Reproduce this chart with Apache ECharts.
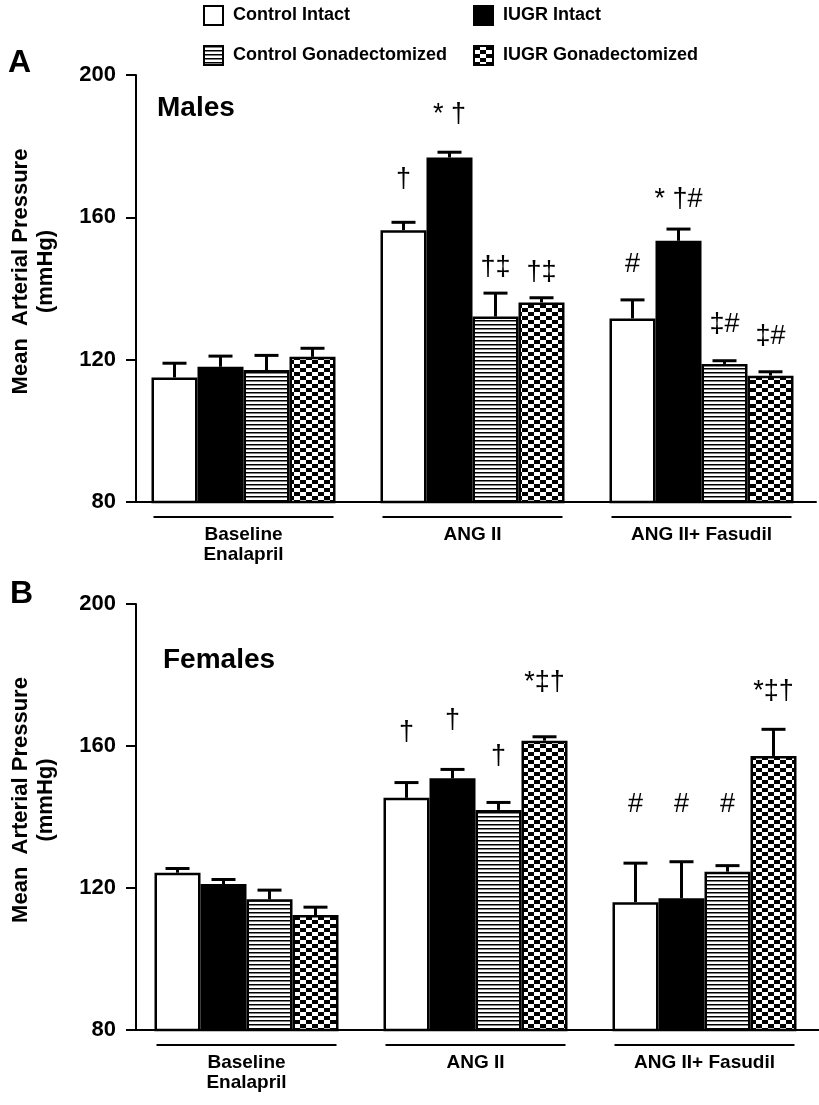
<!DOCTYPE html>
<html><head><meta charset="utf-8">
<script src="https://cdn.jsdelivr.net/npm/echarts@6/dist/echarts.min.js"></script>
<style>html,body{margin:0;padding:0;background:#fff}#c{width:819px;height:1105px}</style>
</head><body><div id="c"></div>
<script>
// ---------- DATA ----------
const categories = ['Baseline\nEnalapril', 'ANG II', 'ANG II+ Fasudil'];
const groupNames = ['Control Intact', 'IUGR Intact', 'Control Gonadectomized', 'IUGR Gonadectomized'];
const yTickMin = 80, yTickMax = 200, yTickStep = 40;

// Males (panel A): means and SEM
const malesControlIntact = [115.0, 156.4, 131.6];
const malesIUGRIntact    = [118.0, 176.8, 153.4];
const malesControlGonad  = [117.1, 132.1, 118.8];
const malesIUGRGonad     = [120.8, 136.1, 115.5];
const malesControlIntactErr = [4.0, 2.2, 5.2];
const malesIUGRIntactErr    = [3.0, 1.5, 3.3];
const malesControlGonadErr  = [4.1, 6.6, 0.9];
const malesIUGRGonadErr     = [2.4, 1.3, 1.1];

// Females (panel B): means and SEM
const femalesControlIntact = [124.3, 145.4, 116.0];
const femalesIUGRIntact    = [121.1, 150.9, 117.1];
const femalesControlGonad  = [116.8, 142.0, 124.6];
const femalesIUGRGonad     = [112.4, 161.5, 157.2];
const femalesControlIntactErr = [1.2, 4.3, 11.0];
const femalesIUGRIntactErr    = [1.3, 2.5, 10.3];
const femalesControlGonadErr  = [2.6, 2.1, 1.7];
const femalesIUGRGonadErr     = [2.2, 1.1, 7.5];

// Significance marks: [category, group, level (mmHg), text]
const malesMarks = [
  [1, 0, 170.5, '†'], [1, 1, 188.8, '* †'], [1, 2, 146.0, '†‡'], [1, 3, 144.6, '†‡'],
  [2, 0, 146.6, '#'], [2, 1, 164.9, '* †#'], [2, 2, 130.0, '‡#'], [2, 3, 126.5, '‡#']
];
const femalesMarks = [
  [1, 0, 163.7, '†'], [1, 1, 167.3, '†'], [1, 2, 156.9, '†'], [1, 3, 178.0, '*‡†'],
  [2, 0, 143.4, '#'], [2, 1, 143.4, '#'], [2, 2, 143.4, '#'], [2, 3, 175.2, '*‡†']
];

// ---------- STYLE ----------
const FONT = '"Liberation Sans", Arial, sans-serif';
const BAR_W = 46;

function stripePattern() {
  const c = document.createElement('canvas'); c.width = 8; c.height = 4;
  const g = c.getContext('2d');
  g.fillStyle = '#fff'; g.fillRect(0, 0, 8, 4);
  g.fillStyle = '#000'; g.fillRect(0, 0, 8, 1.5);
  return { image: c, repeat: 'repeat' };
}
function checkerPattern() {
  const c = document.createElement('canvas'); c.width = 12; c.height = 8;
  const g = c.getContext('2d');
  g.fillStyle = '#fff'; g.fillRect(0, 0, 12, 8);
  g.fillStyle = '#000'; g.fillRect(0, 0, 6, 4); g.fillRect(6, 4, 6, 4);
  return { image: c, repeat: 'repeat' };
}
const fills = ['#ffffff', '#000000', stripePattern(), checkerPattern()];

const malesMeans = [malesControlIntact, malesIUGRIntact, malesControlGonad, malesIUGRGonad];
const malesErrs = [malesControlIntactErr, malesIUGRIntactErr, malesControlGonadErr, malesIUGRGonadErr];
const femalesMeans = [femalesControlIntact, femalesIUGRIntact, femalesControlGonad, femalesIUGRGonad];
const femalesErrs = [femalesControlIntactErr, femalesIUGRIntactErr, femalesControlGonadErr, femalesIUGRGonadErr];

function barSeries(means, idx) {
  return means.map((vals, s) => ({
    type: 'bar', name: groupNames[s], xAxisIndex: idx, yAxisIndex: idx,
    data: vals, barWidth: BAR_W, barGap: '0%',
    itemStyle: { color: fills[s], borderColor: '#000', borderWidth: 2.5 },
    emphasis: { disabled: true }, z: 2
  }));
}
function errorSeries(means, errs, idx) {
  const data = [];
  means.forEach((vals, s) => vals.forEach((v, c) => data.push([c, v, v + errs[s][c], s])));
  return {
    type: 'custom', xAxisIndex: idx, yAxisIndex: idx, z: 3, silent: true,
    encode: { x: 0, y: [1, 2] }, data,
    renderItem(params, api) {
      const c = api.value(0), s = api.value(3);
      const base = api.coord([c, api.value(1)]);
      const top = api.coord([c, api.value(2)]);
      const x = base[0] + (s - 1.5) * BAR_W;
      const st = { stroke: '#000', lineWidth: 3 };
      return { type: 'group', children: [
        { type: 'line', shape: { x1: x, y1: base[1], x2: x, y2: top[1] }, style: st },
        { type: 'line', shape: { x1: x - 12, y1: top[1], x2: x + 12, y2: top[1] }, style: st }
      ]};
    }
  };
}
function markSeries(marks, idx) {
  return {
    type: 'custom', xAxisIndex: idx, yAxisIndex: idx, z: 4, silent: true,
    encode: { x: 0, y: 1 }, data: marks.map(m => [m[0], m[2]]),
    renderItem(params, api) {
      const m = marks[params.dataIndex];
      const p = api.coord([m[0], m[2]]);
      return { type: 'text', x: p[0] + (m[1] - 1.5) * BAR_W, y: p[1],
        style: { text: m[3], font: '27px ' + FONT, fill: '#000', textAlign: 'center', textVerticalAlign: 'middle' } };
    }
  };
}
function underlineSeries(idx) {
  return {
    type: 'custom', xAxisIndex: idx, yAxisIndex: idx, z: 4, silent: true, clip: false,
    encode: { x: 0, y: 1 }, data: categories.map((c, i) => [i, yTickMin]),
    renderItem(params, api) {
      const p = api.coord([api.value(0), api.value(1)]);
      return { type: 'line', shape: { x1: p[0] - 90, y1: p[1] + 15, x2: p[0] + 90, y2: p[1] + 15 },
        style: { stroke: '#000', lineWidth: 2 } };
    }
  };
}
function xAxis(idx) {
  return {
    type: 'category', gridIndex: idx, data: categories,
    axisLine: { lineStyle: { color: '#000', width: 2 } }, axisTick: { show: false },
    axisLabel: { color: '#000', fontFamily: FONT, fontWeight: 'bold', fontSize: 19, lineHeight: 20, margin: 23 }
  };
}
function yAxis(idx, offset) {
  return {
    type: 'value', gridIndex: idx, min: yTickMin, max: yTickMax, interval: yTickStep, offset,
    name: 'Mean  Arterial Pressure\n(mmHg)', nameLocation: 'middle', nameGap: 78, nameRotate: 90,
    nameTextStyle: { color: '#000', fontFamily: FONT, fontWeight: 'bold', fontSize: 22, lineHeight: 25, padding: [0, 0, 0, 34] },
    axisLine: { show: true, lineStyle: { color: '#000', width: 2 } },
    axisTick: { show: true, length: 10, lineStyle: { color: '#000', width: 2 } },
    splitLine: { show: false },
    axisLabel: { color: '#000', fontFamily: FONT, fontWeight: 'bold', fontSize: 22, margin: 20 }
  };
}
function legend(name, left, top) {
  return { data: [name], left, top, padding: 0, icon: 'rect', itemWidth: 19, itemHeight: 19, selectedMode: false,
    textStyle: { color: '#000', fontFamily: FONT, fontWeight: 'bold', fontSize: 18, padding: [0, 0, 0, 5] } };
}

const chart = echarts.init(document.getElementById('c'), null, { renderer: 'canvas' });
chart.setOption({
  animation: false, backgroundColor: '#fff',
  legend: [
    legend(groupNames[0], 203, 5), legend(groupNames[1], 473, 5),
    legend(groupNames[2], 203, 45), legend(groupNames[3], 473, 45)
  ],
  grid: [
    { left: 127, right: 3, top: 75, height: 427 },
    { left: 132, right: 0, top: 604, height: 426 }
  ],
  xAxis: [xAxis(0), xAxis(1)],
  yAxis: [yAxis(0, -7), yAxis(1, -4)],
  graphic: [
    { type: 'text', left: 8, top: 47, style: { text: 'A', font: 'bold 32px ' + FONT, fill: '#000' } },
    { type: 'text', left: 10, top: 578, style: { text: 'B', font: 'bold 32px ' + FONT, fill: '#000' } },
    { type: 'text', left: 157, top: 94, style: { text: 'Males', font: 'bold 28px ' + FONT, fill: '#000' } },
    { type: 'text', left: 163, top: 646, style: { text: 'Females', font: 'bold 28px ' + FONT, fill: '#000' } }
  ],
  series: [
    ...barSeries(malesMeans, 0), ...barSeries(femalesMeans, 1),
    errorSeries(malesMeans, malesErrs, 0), errorSeries(femalesMeans, femalesErrs, 1),
    markSeries(malesMarks, 0), markSeries(femalesMarks, 1),
    underlineSeries(0), underlineSeries(1)
  ]
});
</script></body></html>
